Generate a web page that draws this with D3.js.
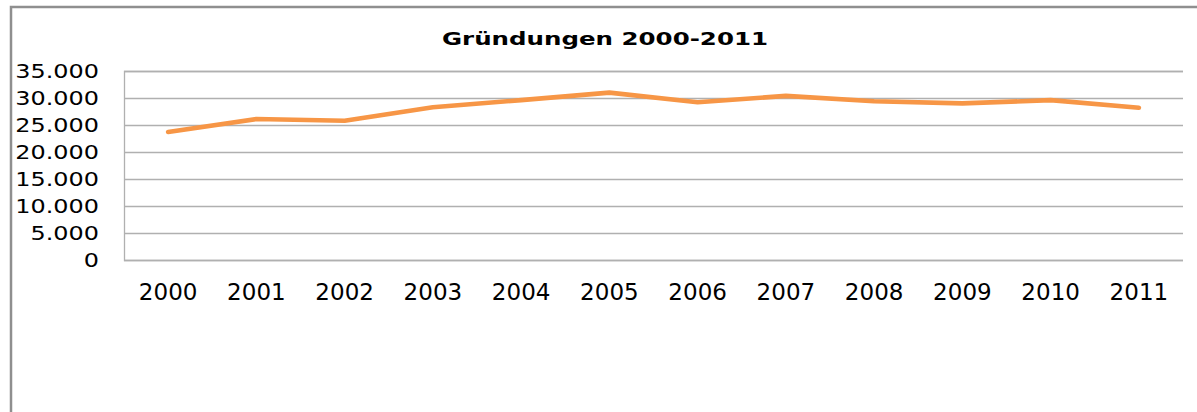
<!DOCTYPE html>
<html>
<head>
<meta charset="utf-8">
<script src="https://cdn.jsdelivr.net/npm/d3@7"></script>
<style>
  html, body { margin: 0; padding: 0; background: #fff; }
  svg { display: block; }
  text { font-family: "DejaVu Sans", Verdana, sans-serif; fill: #000; }
</style>
</head>
<body>
<svg id="chart" width="1197" height="412"></svg>
<script>
const title = "Gründungen 2000-2011";
const years = ["2000","2001","2002","2003","2004","2005","2006","2007","2008","2009","2010","2011"];
const values = [23700, 26100, 25800, 28300, 29600, 31000, 29200, 30400, 29400, 29000, 29600, 28200];
const yTicks = [0, 5000, 10000, 15000, 20000, 25000, 30000, 35000];

const W = 1197, H = 412;
const plot = { left: 124, right: 1183, top: 71, bottom: 260 };

const svg = d3.select("#chart");

// outer chart border (left and top edges visible)
svg.append("path")
  .attr("d", d3.line()([[11, H], [11, 7], [W, 7]]))
  .attr("fill", "none").attr("stroke", "#8f8f8f").attr("stroke-width", 2.5);

const x = d3.scaleBand().domain(years).range([plot.left, plot.right]);
const y = d3.scaleLinear().domain([0, 35000]).range([plot.bottom, plot.top]);

const fmt = v => d3.format(",")(v).replace(/,/g, ".");

// gridlines
svg.append("g")
  .attr("transform", `translate(${plot.left},0)`)
  .call(d3.axisLeft(y).tickValues(yTicks).tickSize(-(plot.right - plot.left)).tickFormat(""))
  .call(g => g.select(".domain").attr("stroke", "#b0b0b0").attr("stroke-width", 1.3))
  .call(g => g.selectAll(".tick line").attr("stroke", "#b0b0b0").attr("stroke-width", 1.3));

// y labels
const yl = svg.append("g");
const sx = 1.26;
yl.selectAll("text").data(yTicks).join("text")
  .attr("transform", d => `translate(99,${y(d)}) scale(${sx},1)`)
  .attr("text-anchor", "end")
  .attr("dy", "0.36em")
  .style("font-size", "19px")
  .text(d => fmt(d));

// x axis labels
svg.append("g")
  .attr("transform", `translate(0,${plot.bottom})`)
  .call(d3.axisBottom(x).tickSize(0).tickPadding(0))
  .call(g => g.select(".domain").remove())
  .call(g => g.selectAll("text")
      .attr("y", 40).attr("dy", 0)
      .style("font-size", "23px")
      .style("font-family", '"DejaVu Sans", Verdana, sans-serif')
      .attr("fill", "#000"));

// line
const line = d3.line()
  .x((d, i) => x(years[i]) + x.bandwidth() / 2)
  .y(d => y(d));
svg.append("path")
  .datum(values)
  .attr("d", line)
  .attr("fill", "none")
  .attr("stroke", "#f79646")
  .attr("stroke-width", 4.6)
  .attr("stroke-linejoin", "round")
  .attr("stroke-linecap", "round");

// title
svg.append("text")
  .attr("x", 605).attr("y", 45)
  .attr("text-anchor", "middle")
  .style("font-size", "17px")
  .style("font-weight", "bold")
  .attr("textLength", 326)
  .attr("lengthAdjust", "spacingAndGlyphs")
  .text(title);
</script>
</body>
</html>
